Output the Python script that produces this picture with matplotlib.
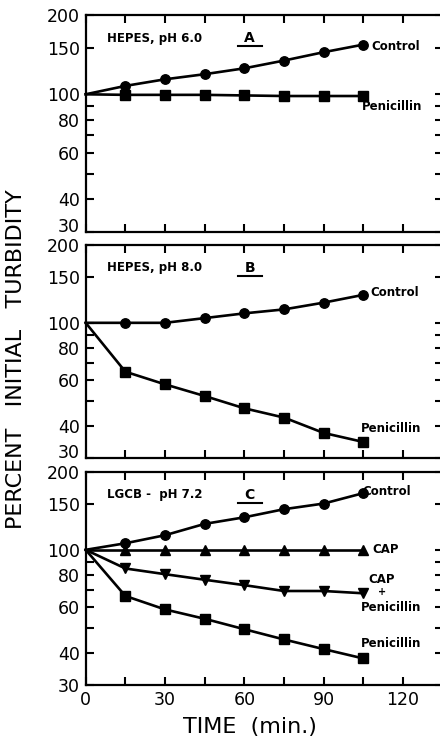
import numpy as np
import matplotlib
matplotlib.use('Agg')
import matplotlib.pyplot as plt
from matplotlib.ticker import NullFormatter

# time points (min)
time = [0, 15, 30, 45, 60, 75, 90, 105]

# Panel A: HEPES, pH 6.0
a_control = [100, 107.6, 114, 119.2, 125.5, 134.3, 144.5, 154.4]
a_penicillin = [100, 99.5, 99.5, 99.5, 99, 98.5, 98.5, 98.5]

# Panel B: HEPES, pH 8.0
b_control = [100, 100, 100, 104.3, 108.8, 112.7, 119.7, 128.3]
b_penicillin = [100, 64.7, 57.8, 52.1, 46.7, 43.0, 37.5, 34.6]

# Panel C: LGCB - pH 7.2
c_control = [100, 106, 113.9, 126, 133.6, 143.6, 151, 165.7]
c_cap = [100, 100, 100, 100, 100, 100, 100, 100]
c_cap_pen = [100, 84.7, 80.5, 76.6, 73, 69.3, 69.3, 67.9]
c_penicillin = [100, 66.3, 58.8, 54.1, 49.3, 45, 41.3, 38]

y_major = [30, 40, 60, 80, 100, 150, 200]
y_minor = [50, 70, 90]
x_ticks = [0, 30, 60, 90, 120]
x_minor = [15, 45, 75, 105]

W, H = 440, 736
fig = plt.figure(figsize=(W / 100, H / 100), dpi=100)

left = 85.7 / W
width = 357 / W
panels = [(15, 232), (245, 458), (472, 685)]
axes = []
for top, bot in panels:
    ax = fig.add_axes([left, 1 - bot / H, width, (bot - top) / H])
    axes.append(ax)

lw = 1.9
ms = 6.8
tick_fs = 12.5


def style(ax, show_x):
    ax.set_yscale('log')
    ax.set_ylim(30, 200)
    ax.set_xlim(0, 135)
    ax.set_yticks(y_major)
    labels = [str(v) for v in y_major]
    if not show_x:
        # the bottom "30" is drawn lifted a little so it clears the next panel's "200"
        labels[0] = ''
        ax.annotate(str(y_major[0]), xy=(0, y_major[0]),
                    xycoords=('axes fraction', 'data'), xytext=(-4, 3.5),
                    textcoords='offset points', ha='right', va='center',
                    fontsize=tick_fs)
    ax.set_yticklabels(labels)
    ax.set_yticks(y_minor, minor=True)
    ax.yaxis.set_minor_formatter(NullFormatter())
    ax.set_xticks(x_ticks)
    ax.set_xticks(x_minor, minor=True)
    if show_x:
        ax.set_xticklabels([str(v) for v in x_ticks])
    else:
        ax.set_xticklabels([])
    ax.tick_params(which='both', direction='in', length=6, width=1.5,
                   top=True, right=True, labelsize=tick_fs, pad=4)
    for s in ax.spines.values():
        s.set_linewidth(1.6)


def series(ax, y, marker):
    ax.plot(time, y, color='black', lw=lw, marker=marker, ms=ms,
            markevery=list(range(1, len(time))), clip_on=False, zorder=3)


def panel_title(ax, text, letter):
    ax.text(8, 163, text, fontsize=8.5, fontweight='bold', va='center', ha='left')
    ax.text(62, 163, letter, fontsize=10, fontweight='bold', va='center', ha='center')
    ax.plot([57.5, 66.5], [152, 152], color='black', lw=1.5)


def label(ax, x, y, text, size=8.5):
    ax.text(x, y, text, fontsize=size, fontweight='bold', va='center', ha='left')


# Panel A
ax = axes[0]
style(ax, False)
series(ax, a_control, 'o')
series(ax, a_penicillin, 's')
panel_title(ax, 'HEPES, pH 6.0', 'A')
label(ax, 108, 152, 'Control')
label(ax, 104.5, 90, 'Penicillin')

# Panel B
ax = axes[1]
style(ax, False)
series(ax, b_control, 'o')
series(ax, b_penicillin, 's')
panel_title(ax, 'HEPES, pH 8.0', 'B')
label(ax, 107.5, 131, 'Control')
label(ax, 104, 39, 'Penicillin')

# Panel C
ax = axes[2]
style(ax, True)
series(ax, c_control, 'o')
series(ax, c_cap, '^')
series(ax, c_cap_pen, 'v')
series(ax, c_penicillin, 's')
panel_title(ax, 'LGCB -  pH 7.2', 'C')
label(ax, 104.5, 168, 'Control')
label(ax, 108.5, 100, 'CAP')
label(ax, 107, 77, 'CAP')
ax.text(112, 68.7, '+', fontsize=7, fontweight='bold', va='center', ha='center')
label(ax, 104, 59.6, 'Penicillin')
label(ax, 104, 43.3, 'Penicillin')

fig.text(16 / W, 1 - 359 / H, 'PERCENT   INITIAL   TURBIDITY', rotation=90,
         fontsize=16, ha='center', va='center')
fig.text(250 / W, 1 - 727 / H, 'TIME  (min.)', fontsize=16, ha='center', va='center')

fig.savefig('out.png', dpi=100)
